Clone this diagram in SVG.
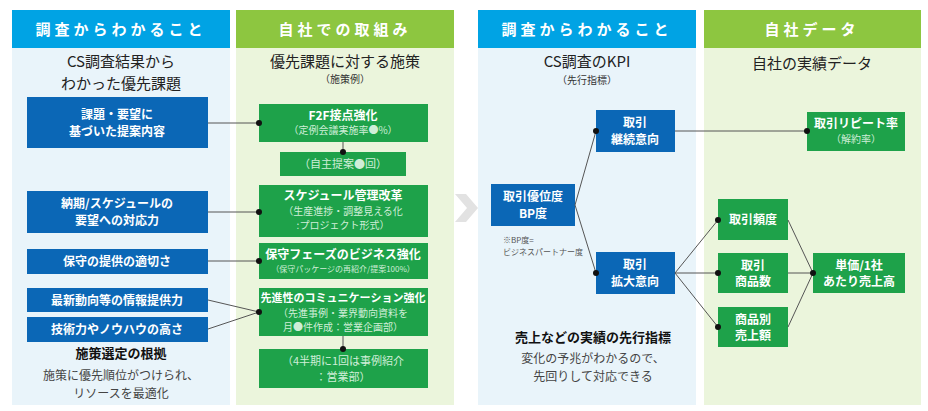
<svg xmlns="http://www.w3.org/2000/svg" width="928" height="411" viewBox="0 0 928 411">
<style>
text{font-family:"Noto Sans CJK JP","Noto Sans",sans-serif;text-anchor:middle}
.hb{fill:#00a3e4}.hg{fill:#8dc640}.bb{fill:#e9f4fa}.bg{fill:#ebf5dc}
.ht{fill:#fff;font-size:15px;font-weight:bold;letter-spacing:4px}
.sub{fill:#222;font-size:15px}
.sm{fill:#333;font-size:10px}
.nb{fill:#0b67b6}.ng{fill:#1ea24a}
.wt{fill:#fff;font-size:12px;font-weight:bold}
.lt{fill:#cfeed8;font-size:10px}
.c line{stroke:#555;stroke-width:1}
.c circle{fill:#111}
</style>
<g id="panels">
<rect class="bb" x="12" y="48" width="218" height="357"/>
<rect class="hb" x="12" y="10" width="218" height="38"/>
<text class="ht" x="121" y="35">調査からわかること</text>
<rect class="bg" x="236" y="48" width="218" height="357"/>
<rect class="hg" x="236" y="10" width="218" height="38"/>
<text class="ht" x="345" y="35">自社での取組み</text>
<rect class="bb" x="478" y="48" width="218" height="357"/>
<rect class="hb" x="478" y="10" width="218" height="38"/>
<text class="ht" x="587" y="35">調査からわかること</text>
<rect class="bg" x="704" y="48" width="217" height="357"/>
<rect class="hg" x="704" y="10" width="217" height="38"/>
<text class="ht" x="812" y="35">自社データ</text>
<polygon points="455,194 466,194 478,208 466,222 455,222 467,208" fill="#e2e2e2"/>
<text class="sub" x="121" y="67">CS調査結果から</text>
<text class="sub" x="121" y="89">わかった優先課題</text>
<text class="sub" x="345" y="67">優先課題に対する施策</text>
<text class="sm" x="345" y="83">（施策例）</text>
<text class="sub" x="587" y="67">CS調査のKPI</text>
<text class="sm" x="587" y="84">（先行指標）</text>
<text class="sub" x="812" y="69">自社の実績データ</text>
<text x="121" y="358" style="font-size:13px;font-weight:bold;fill:#111">施策選定の根拠</text>
<text x="121" y="380" style="font-size:12px;fill:#444">施策に優先順位がつけられ、</text>
<text x="121" y="398" style="font-size:12px;fill:#444">リソースを最適化</text>
<text x="593" y="342" style="font-size:13px;font-weight:bold;fill:#111">売上などの実績の先行指標</text>
<text x="593" y="363" style="font-size:12px;fill:#444">変化の予兆がわかるので、</text>
<text x="593" y="381" style="font-size:12px;fill:#444">先回りして対応できる</text>
<text x="503" y="243" style="font-size:8px;fill:#555;text-anchor:start">※BP度=</text>
<text x="503" y="255" style="font-size:8px;fill:#555;text-anchor:start">ビジネスパートナー度</text>
</g>
<g id="n1"><rect class="nb" x="27" y="97" width="181" height="51"/><text class="wt" x="117" y="119">課題・要望に</text><text class="wt" x="117" y="136">基づいた提案内容</text></g>
<g id="n2"><rect class="nb" x="27" y="191" width="181" height="42"/><text class="wt" x="117" y="208">納期/スケジュールの</text><text class="wt" x="117" y="225">要望への対応力</text></g>
<g id="n3"><rect class="nb" x="27" y="249" width="181" height="25"/><text class="wt" x="117" y="266">保守の提供の適切さ</text></g>
<g id="n4"><rect class="nb" x="27" y="288" width="181" height="24"/><text class="wt" x="117" y="305">最新動向等の情報提供力</text></g>
<g id="n5"><rect class="nb" x="27" y="317" width="181" height="25"/><text class="wt" x="117" y="334">技術力やノウハウの高さ</text></g>
<g id="g1"><rect class="ng" x="259" y="104" width="169" height="38"/><text class="wt" x="343" y="120">F2F接点強化</text><text class="lt" x="343" y="134">（定例会議実施率●%）</text></g>
<g id="g2"><rect class="ng" x="280" y="152" width="126" height="24"/><text class="lt" x="343" y="168" style="font-size:11px">（自主提案●回）</text></g>
<g id="g3"><rect class="ng" x="259" y="185" width="169" height="52"/><text class="wt" x="343" y="200">スケジュール管理改革</text><text class="lt" x="343" y="215">（生産進捗・調整見える化</text><text class="lt" x="343" y="229">:プロジェクト形式）</text></g>
<g id="g4"><rect class="ng" x="259" y="243" width="169" height="36"/><text class="wt" x="343" y="259">保守フェーズのビジネス強化</text><text class="lt" x="343" y="272" style="font-size:8px">（保守パッケージの再紹介/提案100%）</text></g>
<g id="g5"><rect class="ng" x="259" y="288" width="169" height="48"/><text class="wt" x="343" y="302" style="font-size:11px">先進性のコミュニケーション強化</text><text class="lt" x="343" y="317">（先進事例・業界動向資料を</text><text class="lt" x="343" y="331">月●件作成：営業企画部）</text></g>
<g id="g6"><rect class="ng" x="259" y="349" width="169" height="39"/><text class="lt" x="343" y="365" style="font-size:11px">（4半期に1回は事例紹介</text><text class="lt" x="343" y="381" style="font-size:11px">：営業部）</text></g>
<g id="k1"><rect class="nb" x="491" y="184" width="84" height="42"/><text class="wt" x="533" y="201">取引優位度</text><text class="wt" x="533" y="218">BP度</text></g>
<g id="k2"><rect class="nb" x="596" y="110" width="79" height="42"/><text class="wt" x="635" y="127">取引</text><text class="wt" x="635" y="144">継続意向</text></g>
<g id="k3"><rect class="nb" x="596" y="252" width="79" height="42"/><text class="wt" x="635" y="269">取引</text><text class="wt" x="635" y="286">拡大意向</text></g>
<g id="d1"><rect class="ng" x="807" y="112" width="98" height="39"/><text class="wt" x="856" y="128">取引リピート率</text><text class="lt" x="856" y="143">（解約率）</text></g>
<g id="d2"><rect class="ng" x="718" y="199" width="70" height="41"/><text class="wt" x="753" y="224">取引頻度</text></g>
<g id="d3"><rect class="ng" x="718" y="253" width="70" height="40"/><text class="wt" x="753" y="270">取引</text><text class="wt" x="753" y="286">商品数</text></g>
<g id="d4"><rect class="ng" x="718" y="307" width="70" height="40"/><text class="wt" x="753" y="324">商品別</text><text class="wt" x="753" y="340">売上額</text></g>
<g id="d5"><rect class="ng" x="813" y="253" width="92" height="40"/><text class="wt" x="859" y="270">単価/1社</text><text class="wt" x="859" y="286">あたり売上高</text></g>
<g id="connectors" class="c">
<line x1="208" y1="123" x2="259" y2="123"/><circle cx="259" cy="123" r="3"/>
<line x1="343" y1="142" x2="343" y2="152"/><circle cx="343" cy="152" r="3"/>
<line x1="208" y1="212" x2="259" y2="212"/><circle cx="259" cy="212" r="3"/>
<line x1="208" y1="261" x2="259" y2="261"/><circle cx="259" cy="261" r="3"/>
<line x1="208" y1="300" x2="259" y2="312"/><line x1="208" y1="329" x2="259" y2="312"/><circle cx="259" cy="312" r="3"/>
<line x1="343" y1="336" x2="343" y2="349"/><circle cx="343" cy="349" r="3"/>
<line x1="575" y1="205" x2="596" y2="131"/><circle cx="596" cy="131" r="3"/>
<line x1="575" y1="205" x2="596" y2="273"/><circle cx="596" cy="273" r="3"/>
<line x1="675" y1="131" x2="807" y2="131"/><circle cx="807" cy="131" r="3"/>
<line x1="675" y1="273" x2="718" y2="220"/><circle cx="718" cy="220" r="3"/>
<line x1="675" y1="273" x2="718" y2="273"/><circle cx="718" cy="273" r="3"/>
<line x1="675" y1="273" x2="718" y2="327"/><circle cx="718" cy="327" r="3"/>
<line x1="788" y1="220" x2="813" y2="273"/><line x1="788" y1="273" x2="813" y2="273"/><line x1="788" y1="327" x2="813" y2="273"/><circle cx="813" cy="273" r="3"/>
</g>
</svg>
